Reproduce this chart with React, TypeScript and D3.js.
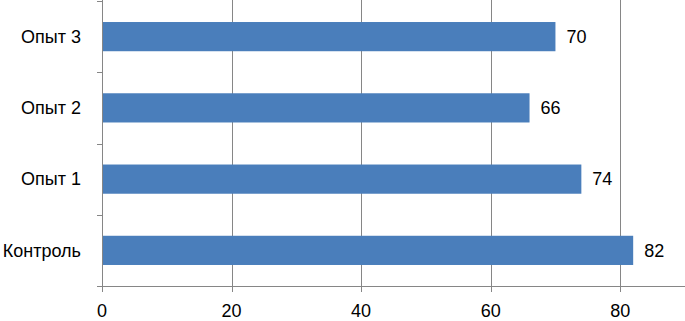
import React, { useEffect, useRef } from "react";
import * as d3 from "d3";

const categories = ["Опыт 3", "Опыт 2", "Опыт 1", "Контроль"];
const values = [70, 66, 74, 82];
const xTicks = [0, 20, 40, 60, 80];

const App = () => {
  const svgRef = useRef<SVGSVGElement>(null);

  useEffect(() => {
    const width = 685;
    const height = 321;
    const margin = { top: 1, right: 0, bottom: 35, left: 102 };

    const svg = d3.select(svgRef.current);
    svg.selectAll("*").remove();
    svg.attr("width", width).attr("height", height);

    const x = d3
      .scaleLinear()
      .domain([0, 90])
      .range([margin.left, width - margin.right]);

    const y = d3
      .scaleBand()
      .domain(categories)
      .range([margin.top, height - margin.bottom])
      .paddingInner(0.59)
      .paddingOuter(0.295);

    const axisY = height - margin.bottom;
    const grey = "#868686";
    const font = "'Liberation Sans', Arial, sans-serif";

    // gridlines + x ticks
    svg
      .append("g")
      .selectAll("line")
      .data(xTicks.slice(1))
      .enter()
      .append("line")
      .attr("x1", (d) => Math.round(x(d)) + 0.5)
      .attr("x2", (d) => Math.round(x(d)) + 0.5)
      .attr("y1", 0)
      .attr("y2", axisY + 6)
      .attr("stroke", grey)
      .attr("stroke-width", 1);

    // x axis line
    svg
      .append("line")
      .attr("x1", x(0) - 5)
      .attr("x2", width)
      .attr("y1", axisY + 0.5)
      .attr("y2", axisY + 0.5)
      .attr("stroke", grey);

    // y axis line
    svg
      .append("line")
      .attr("x1", Math.round(x(0)) + 0.5)
      .attr("x2", Math.round(x(0)) + 0.5)
      .attr("y1", 0)
      .attr("y2", axisY + 6)
      .attr("stroke", grey);

    // category boundary ticks
    const step = y.step();
    const bounds = d3.range(categories.length + 1).map((i) => margin.top + i * step);
    svg
      .append("g")
      .selectAll("line")
      .data(bounds)
      .enter()
      .append("line")
      .attr("x1", x(0) - 5)
      .attr("x2", x(0))
      .attr("y1", (d) => Math.round(d) + 0.5)
      .attr("y2", (d) => Math.round(d) + 0.5)
      .attr("stroke", grey);

    // bars
    svg
      .append("g")
      .selectAll("rect")
      .data(values)
      .enter()
      .append("rect")
      .attr("x", x(0) + 1)
      .attr("y", (d, i) => y(categories[i])!)
      .attr("width", (d) => x(d) - x(0) - 1)
      .attr("height", y.bandwidth())
      .attr("fill", "#4a7ebb");

    // value labels
    svg
      .append("g")
      .selectAll("text")
      .data(values)
      .enter()
      .append("text")
      .attr("x", (d) => x(d) + 11)
      .attr("y", (d, i) => y(categories[i])! + y.bandwidth() / 2)
      .attr("dy", "0.35em")
      .attr("font-family", font)
      .attr("font-size", 18)
      .attr("fill", "#000")
      .text((d) => d);

    // category labels
    svg
      .append("g")
      .selectAll("text")
      .data(categories)
      .enter()
      .append("text")
      .attr("x", 81)
      .attr("y", (d) => y(d)! + y.bandwidth() / 2)
      .attr("dy", "0.35em")
      .attr("text-anchor", "end")
      .attr("font-family", font)
      .attr("font-size", 18)
      .attr("fill", "#000")
      .text((d) => d);

    // x tick labels
    svg
      .append("g")
      .selectAll("text")
      .data(xTicks)
      .enter()
      .append("text")
      .attr("x", (d) => x(d))
      .attr("y", 311)
      .attr("dy", "0.35em")
      .attr("text-anchor", "middle")
      .attr("font-family", font)
      .attr("font-size", 18)
      .attr("fill", "#000")
      .text((d) => d);
  }, []);

  return (
    <svg
      ref={svgRef}
      style={{ position: "absolute", left: 0, top: 0, background: "#fff" }}
    />
  );
};

export default App;
